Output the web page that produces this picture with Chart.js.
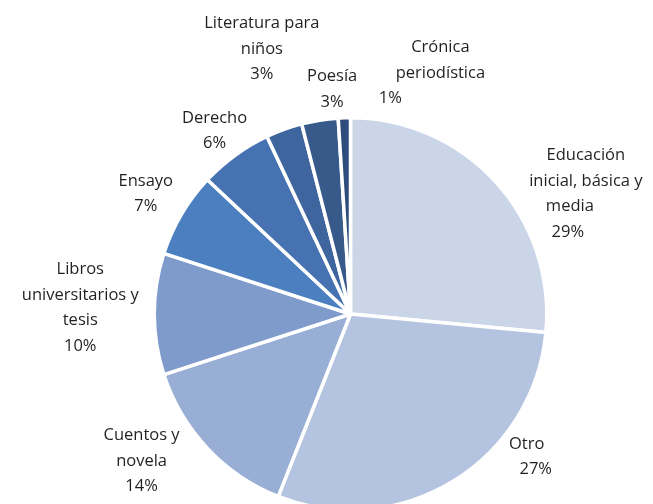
<!DOCTYPE html>
<html>
<head>
<meta charset="utf-8">
<script src="https://cdn.jsdelivr.net/npm/chart.js@4/dist/chart.umd.min.js"></script>
<style>
html,body{margin:0;padding:0;background:#fff;overflow:hidden;}
#wrap{width:653px;height:512px;position:relative;}
</style>
</head>
<body>
<div id="wrap"><canvas id="c"></canvas></div>
<script>
// Data
const categories = [
  "Educación inicial, básica y media",
  "Otro",
  "Cuentos y novela",
  "Libros universitarios y tesis",
  "Ensayo",
  "Derecho",
  "Literatura para niños",
  "Poesía",
  "Crónica periodística"
];
const sliceShares = [26.5, 29.5, 14, 10, 7, 6, 3, 3, 1];
// percentages printed in the labels
const printedPercents = [29, 27, 14, 10, 7, 6, 3, 3, 1];
const labelLines = [
  ["Educación", "inicial, básica y", "media"],
  ["Otro"],
  ["Cuentos y", "novela"],
  ["Libros", "universitarios y", "tesis"],
  ["Ensayo"],
  ["Derecho"],
  ["Literatura para", "niños"],
  ["Poesía"],
  ["Crónica", "periodística"]
];

// Styles / layout
const colors = ["#cbd5e8","#b4c3df","#99aed4","#7e9bcb","#4b7fc0","#4672b2","#3f659f","#385a8b","#2e4d7c"];
const labelOffsets = [[68,32],[62,-50],[-44,-8],[-44,-6],[-10,-5],[-3,0],[-12,-52],[17,-1],[97,-15]];
const lineShifts = [[0,0,-16,-18],[-4,5],[0,0,0],[0,0,0,0],[0,0],[0,0],[0,0,0],[0,0],[0,0,-50]];
const LINE_H = 25.5;
const FONT = '16.5px "Open Sans"';

const outsideLabels = {
  id: 'outsideLabels',
  afterDatasetsDraw(chart) {
    const ctx = chart.ctx;
    const meta = chart.getDatasetMeta(0);
    ctx.save();
    ctx.font = FONT;
    ctx.fillStyle = '#231f20';
    ctx.textAlign = 'center';
    ctx.textBaseline = 'middle';
    meta.data.forEach((arc, i) => {
      const p = arc.getProps(['x','y','startAngle','endAngle','outerRadius'], true);
      const mid = (p.startAngle + p.endAngle) / 2;
      const R = p.outerRadius + 30;
      const ax = p.x + Math.cos(mid) * R + labelOffsets[i][0];
      const ay = p.y + Math.sin(mid) * R + labelOffsets[i][1];
      const lines = labelLines[i].concat([printedPercents[i] + '%']);
      const n = lines.length;
      lines.forEach((t, k) => {
        const yy = ay + (k - (n - 1) / 2) * LINE_H;
        ctx.fillText(t, ax + (lineShifts[i][k] || 0), yy);
      });
    });
    ctx.restore();
  }
};

new Chart(document.getElementById('c'), {
  type: 'pie',
  data: {
    labels: categories,
    datasets: [{
      data: sliceShares,
      backgroundColor: colors,
      borderColor: '#ffffff',
      borderWidth: 3.5,
      hoverOffset: 0
    }]
  },
  options: {
    responsive: true,
    maintainAspectRatio: false,
    animation: false,
    layout: { padding: { top: 116, bottom: 0, left: 48, right: 0 } },
    plugins: { legend: { display: false }, tooltip: { enabled: false } }
  },
  plugins: [outsideLabels]
});
</script>
</body>
</html>
